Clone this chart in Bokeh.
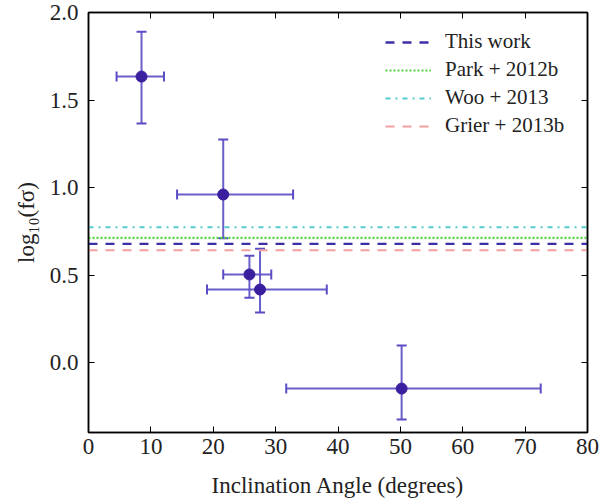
from bokeh.plotting import figure
from bokeh.models import (ColumnDataSource, Whisker, TeeHead, LinearAxis, Range1d,
                          FixedTicker, Legend, LegendItem)
from bokeh.embed import file_html
from bokeh.resources import INLINE

# ---- data ----
incl = [8.5, 21.6, 25.8, 27.5, 50.2]
incl_lo = [4.5, 14.2, 21.6, 19.0, 31.7]
incl_hi = [12.1, 32.8, 29.3, 38.2, 72.5]
logf = [1.634, 0.96, 0.503, 0.417, -0.149]
logf_lo = [1.366, 0.71, 0.37, 0.286, -0.326]
logf_hi = [1.89, 1.274, 0.61, 0.65, 0.097]

ref_names = ["This work", "Park + 2012b", "Woo + 2013", "Grier + 2013b"]
ref_values = [0.678, 0.712, 0.773, 0.642]

x_ticks = [0, 10, 20, 30, 40, 50, 60, 70, 80]
y_ticks = [0.0, 0.5, 1.0, 1.5, 2.0]

FONT = "Liberation Serif"

p = figure(width=599, height=503, output_backend="svg", toolbar_location=None,
           x_range=Range1d(0, 80), y_range=Range1d(-0.4, 2.0),
           min_border_left=88, min_border_right=12, min_border_top=12, min_border_bottom=71)
p.xgrid.visible = False
p.ygrid.visible = False
p.outline_line_color = "black"
p.outline_line_width = 1.5
p.background_fill_color = "white"
p.border_fill_color = "white"

def style_axis(ax, labels=True):
    ax.major_tick_in = 6
    ax.major_tick_out = 0
    ax.minor_tick_in = 0
    ax.minor_tick_out = 0
    ax.axis_line_color = "black"
    ax.axis_line_width = 1.5
    ax.major_tick_line_color = "black"
    ax.major_tick_line_width = 1
    ax.major_label_text_font = FONT
    ax.major_label_text_font_size = "23px"
    ax.major_label_text_color = "#222222"
    ax.axis_label_text_font = FONT
    ax.axis_label_text_font_size = "23px"
    ax.axis_label_text_font_style = "normal"
    ax.axis_label_text_color = "#222222"
    if not labels:
        ax.major_label_text_font_size = "0px"
        ax.major_label_text_alpha = 0

p.xaxis.ticker = FixedTicker(ticks=x_ticks)
p.yaxis.ticker = FixedTicker(ticks=y_ticks)
p.xaxis.major_label_overrides = {t: str(t) for t in x_ticks}
p.yaxis.major_label_overrides = {t: f"{t:.1f}" for t in y_ticks}
p.xaxis.axis_label = "Inclination Angle (degrees)"
p.yaxis.axis_label = "log\u2081\u2080(f\u03c3)"
style_axis(p.xaxis[0])
style_axis(p.yaxis[0])
p.xaxis.major_label_standoff = 6
p.yaxis.major_label_standoff = 10
p.xaxis.axis_label_standoff = 16
p.yaxis.axis_label_standoff = 8

top = LinearAxis(ticker=FixedTicker(ticks=x_ticks))
right = LinearAxis(ticker=FixedTicker(ticks=y_ticks))
style_axis(top, labels=False)
style_axis(right, labels=False)
top.major_label_standoff = 0
right.major_label_standoff = 0
p.add_layout(top, "above")
p.add_layout(right, "right")

# reference lines
styles = [
    dict(color="#3b2fa8", dash="9 8", width=2.4),
    dict(color="#4fd23c", dash="2 2", width=2.2),
    dict(color="#55cccc", dash="5 5 2 5", width=2.2),
    dict(color="#f4a0a0", dash="9 8", width=2.0),
]
items = []
for name, v, st in zip(ref_names, ref_values, styles):
    r = p.line(x=[0, 80], y=[v, v], line_color=st["color"], line_dash=st["dash"],
               line_width=st["width"])
    items.append(LegendItem(label=name, renderers=[r]))

# error bars
src = ColumnDataSource(dict(x=incl, xl=incl_lo, xh=incl_hi, y=logf, yl=logf_lo, yh=logf_hi))
ebar_color = "#5a4cc4"
wy = Whisker(source=src, base="x", lower="yl", upper="yh", dimension="height",
             line_color=ebar_color, line_width=2, line_alpha=0.9,
             upper_head=TeeHead(size=10, line_color=ebar_color, line_width=2),
             lower_head=TeeHead(size=10, line_color=ebar_color, line_width=2))
wx = Whisker(source=src, base="y", lower="xl", upper="xh", dimension="width",
             line_color=ebar_color, line_width=2, line_alpha=0.9,
             upper_head=TeeHead(size=10, line_color=ebar_color, line_width=2),
             lower_head=TeeHead(size=10, line_color=ebar_color, line_width=2))
p.add_layout(wy)
p.add_layout(wx)
p.scatter(x="x", y="y", source=src, size=11, fill_color="#3a1f9e", line_color="#3a1f9e")

legend = Legend(items=items, location=(287, 284))
legend.border_line_alpha = 0
legend.background_fill_alpha = 0
legend.label_text_font = FONT
legend.label_text_font_size = "21px"
legend.label_text_color = "#222222"
legend.glyph_width = 46
legend.glyph_height = 20
legend.spacing = 3
legend.label_standoff = 14
legend.margin = 0
legend.padding = 10
p.add_layout(legend)

open("out.html", "w").write(file_html(p, INLINE))
